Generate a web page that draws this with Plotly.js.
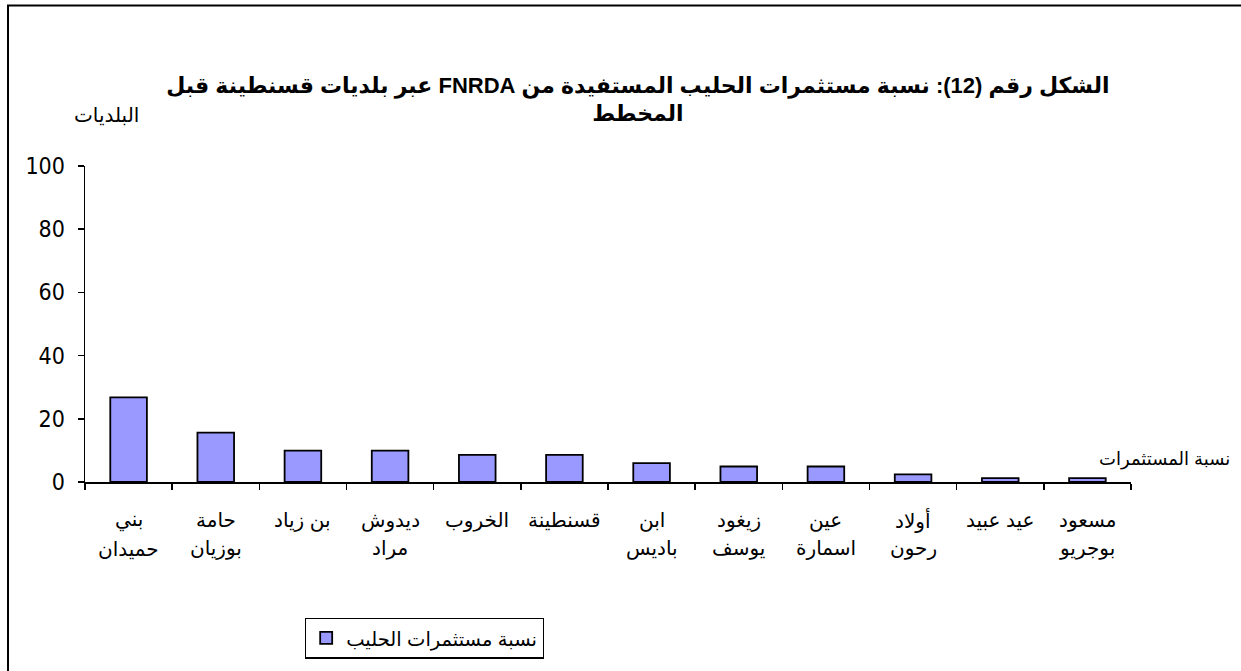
<!DOCTYPE html>
<html>
<head>
<meta charset="utf-8">
<script src="https://cdn.plot.ly/plotly-3.0.1.min.js"></script>
<style>html,body{margin:0;padding:0;background:#fff;}#chart{width:1241px;height:671px;}</style>
</head>
<body>
<div id="chart"></div>
<script>
const categories = ["بني<br>حميدان","حامة<br>بوزيان","بن زياد","ديدوش<br>مراد","الخروب","قسنطينة","ابن<br>باديس","زيغود<br>يوسف","عين<br>اسمارة","أولاد<br>رحون","عيد عبيد","مسعود<br>بوجريو"];
const values = [26.8, 15.6, 9.9, 9.9, 8.6, 8.6, 6.0, 4.9, 4.9, 2.4, 1.2, 1.2];
const seriesName = "نسبة مستثمرات الحليب";
const titleText = "الشكل رقم (12): نسبة مستثمرات الحليب المستفيدة من FNRDA عبر بلديات قسنطينة قبل<br>المخطط";
const xLabel = "نسبة المستثمرات";
const yLabel = "البلديات";
const yTicks = [0, 20, 40, 60, 80, 100];

const RLE = "\u202B", PDF = "\u202C";
const rtl = s => s.split("<br>").map(l => RLE + l + PDF).join("<br>");

const arFont = "Liberation Sans, DejaVu Sans, sans-serif";

const annotations = [];
categories.forEach(c => {
  const lines = c.split("<br>");
  lines.forEach((ln, i) => {
    annotations.push({
      x: c, xref: "x", yref: "paper", y: i === 0 ? -0.121 : -0.211,
      yanchor: "middle", xanchor: "center", showarrow: false,
      text: rtl(ln), font: {family: arFont, size: 20, color: "#000"}
    });
  });
});
annotations.push({
  xref: "paper", yref: "paper", x: 1.0, y: 0.07, xanchor: "left", yanchor: "middle", xshift: -34,
  showarrow: false, text: rtl(xLabel), font: {family: arFont, size: 18, color: "#000"}
});
annotations.push({
  xref: "paper", yref: "paper", x: 0, y: 1.16, xanchor: "center", yanchor: "middle", xshift: 21,
  showarrow: false, text: rtl(yLabel), font: {family: arFont, size: 20, color: "#000"}
});

const trace = {
  type: "bar", x: categories, y: values, name: rtl(seriesName),
  marker: {color: "#9999FF", line: {color: "#000", width: 1.8}},
  width: 0.42, showlegend: true
};

const layout = {
  width: 1241, height: 671,
  margin: {l: 85, r: 110, t: 166, b: 187},
  paper_bgcolor: "#fff", plot_bgcolor: "#fff",
  title: {
    text: "<b>" + rtl(titleText) + "</b>",
    font: {family: arFont, size: 22, color: "#000"},
    x: 0.514, xref: "container", xanchor: "center",
    y: 0.862, yref: "container", yanchor: "top"
  },
  xaxis: {
    type: "category", showline: true, linecolor: "#000", linewidth: 1.5,
    ticks: "outside", tickson: "boundaries", ticklen: 6, tickwidth: 1.5, tickcolor: "#000",
    showticklabels: false, showgrid: false, zeroline: false, fixedrange: true
  },
  yaxis: {
    range: [0, 100], tickvals: yTicks, ticktext: yTicks.map(String),
    showline: true, linecolor: "#000", linewidth: 1.5,
    ticks: "outside", ticklen: 6, tickwidth: 1.5, tickcolor: "#000",
    ticklabelstandoff: 8,
    tickfont: {family: "DejaVu Sans Condensed, DejaVu Sans, sans-serif", size: 23, color: "#000"},
    showgrid: false, zeroline: false, fixedrange: true
  },
  legend: {
    x: 0.2103, y: -0.429, xanchor: "left", yanchor: "top", xref: "paper", yref: "paper",
    bgcolor: "#fff", bordercolor: "#000", borderwidth: 1.2,
    font: {family: arFont, size: 19.5, color: "#000"}
  },
  annotations: annotations,
  shapes: [{
    type: "rect", xref: "paper", yref: "paper",
    x0: -0.0736, x1: 1.2, y0: -1.0, y1: 1.508,
    line: {color: "#000", width: 2}, fillcolor: "rgba(0,0,0,0)"
  }],
  showlegend: true
};

Plotly.newPlot("chart", [trace], layout, {displayModeBar: false, staticPlot: true});
</script>
</body>
</html>
